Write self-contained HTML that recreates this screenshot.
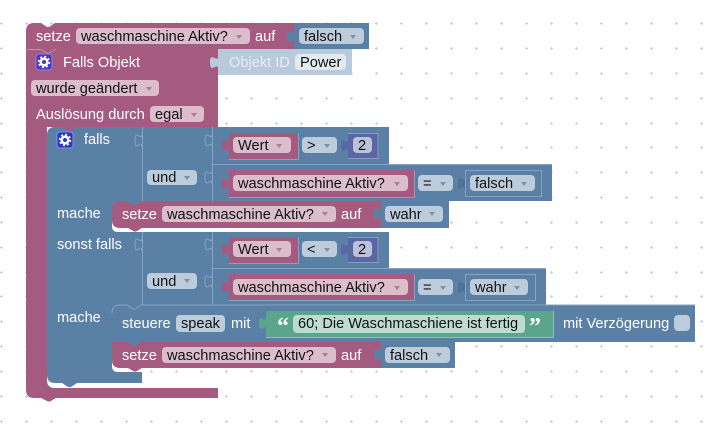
<!DOCTYPE html>
<html><head><meta charset="utf-8"><style>
html,body{margin:0;padding:0;background:#fff}
svg{display:block}
text{font-family:"Liberation Sans",Arial,sans-serif;font-size:14.6px}
.w{fill:#fff}.k{fill:#111}
.fp{fill:#dbbdcc}.fb{fill:#bdccdb}
.l{fill:none;stroke:#86a3bf;stroke-width:1}
.lp{fill:none;stroke:#c48fab;stroke-width:1}
.a{fill:#7d8fa3}.ap{fill:#a87d95}
.d1{stroke:#cfcfcf;stroke-width:1;stroke-dasharray:1 24;fill:none}
.d3{stroke:#cfcfcf;stroke-width:1;stroke-dasharray:3 22;fill:none}
</style></head><body>
<svg width="714" height="429" viewBox="0 0 714 429" xmlns="http://www.w3.org/2000/svg">
<defs>
<g id="r"><path class="d1" d="M1 -.5H714M1 1.500H714"/><path class="d3" d="M0 .5H714"/></g>
<g id="gear"><circle r="4.600" fill="#fff"/><circle r="5.400" fill="none" stroke="#fff" stroke-width="1.600" stroke-dasharray="2 2.240"/></g>
</defs>
<rect width="714" height="429" fill="#fff"/>
<use href="#r" y="23"/><use href="#r" y="48"/><use href="#r" y="73"/><use href="#r" y="98"/><use href="#r" y="123"/><use href="#r" y="147"/><use href="#r" y="172"/><use href="#r" y="197"/><use href="#r" y="222"/><use href="#r" y="247"/><use href="#r" y="272"/><use href="#r" y="296"/><use href="#r" y="321"/><use href="#r" y="346"/><use href="#r" y="371"/><use href="#r" y="396"/><use href="#r" y="421"/>

<!-- main pink -->
<path fill="#a55b80" d="M26 31q0-8 8-8h7l6 4h2l6-4H294V49H218V127H47V380q0 8 8 8H218V398H56l-6 3.500h-2l-7-3.500H34q-8 0-8-8z"/>
<path class="lp" d="M27 49.500H41l6 3.500h2l6-3.500h1"/>
<!-- top value -->
<path fill="#5b80a5" d="M294 23H369V49H294V43c0,-8 -7,6 -7,-6.500s7,2 7,-6.500z"/>
<!-- Objekt ID shadow -->
<path fill="#b9cbdb" d="M218 49H352V75H218V69c0,-8 -8,6 -8,-6.500s8,2 8,-6.500z"/>

<!-- blue falls -->
<path fill="#5b80a5" d="M47 135q0-8 8-8H389V164H552V201H449V228H142V232H389V268H546V305H695V342H455V368H142V383H77l-6 4h-3l-6-4H55q-8 0-8-8z"/>
<path fill="#a55b80" d="M62 127l6 4h3l6-4z"/>
<!-- white inner corners -->
<path fill="#fff" d="M112 218V226q0 6 6 6H142V218zM112 358V366q0 6 6 6H142V358z"/>

<!-- separators -->
<path class="l" d="M142.500 127V201M212.500 127V201M212 164.500H552M142.500 232V305M212.500 232V305M212 268.500H546"/>
<path class="l" d="M142 134c0,8 -7,-6 -7,6.500s7,-2 7,6.500M212 134c0,8 -7,-6 -7,6.500s7,-2 7,6.500M212 171c0,8 -7,-6 -7,6.500s7,-2 7,6.500M142 238c0,8 -7,-6 -7,6.500s7,-2 7,6.500M212 238c0,8 -7,-6 -7,6.500s7,-2 7,6.500M212 275c0,8 -7,-6 -7,6.500s7,-2 7,6.500"/>

<!-- row 1 text -->
<text x="36" y="41" class="w">setze</text>
<rect x="76" y="28" width="174" height="16" rx="4" class="fp"/>
<text x="81" y="41" class="k">waschmaschine Aktiv?</text>
<path class="ap" d="M236 35h6l-3 4z"/>
<text x="255" y="41" class="w">auf</text>
<rect x="299" y="28" width="65" height="16" rx="4" class="fb"/>
<text x="304" y="41" class="k">falsch</text>
<path class="a" d="M350 35h6l-3 4z"/>

<!-- Falls Objekt -->
<rect x="36" y="54" width="16" height="16" rx="3" fill="#4a36c8" stroke="#8f83d8"/>
<use href="#gear" x="44" y="62"/><circle cx="44" cy="62" r="2" fill="#4a36c8"/>
<text x="63" y="67" class="w">Falls Objekt</text>
<text x="229" y="67" fill="#e6edf3">Objekt ID</text>
<rect x="295" y="54" width="51" height="16" rx="4" fill="#e3ebf2"/>
<text x="300" y="67" class="k">Power</text>
<rect x="31" y="80" width="128" height="16" rx="4" class="fp"/>
<text x="36" y="93" class="k">wurde geändert</text>
<path class="ap" d="M146 87h6l-3 4z"/>
<text x="36" y="119" class="w">Auslösung durch</text>
<rect x="150" y="106" width="54" height="16" rx="4" class="fp"/>
<text x="155" y="119" class="k">egal</text>
<path class="ap" d="M191 113h6l-3 4z"/>

<!-- falls -->
<rect x="57" y="132" width="16" height="16" rx="3" fill="#2a36c8" stroke="#7f8fe6"/>
<use href="#gear" x="65" y="140"/><circle cx="65" cy="140" r="2" fill="#2a36c8"/>
<text x="84" y="144" class="w">falls</text>
<rect x="147" y="170" width="50" height="15" rx="4" class="fb"/>
<text x="152" y="182" class="k">und</text>
<path class="a" d="M184 176h6l-3 4z"/>

<!-- Wert > 2 -->
<path fill="#a55b80" d="M229 133H298V159H229V152c0,-8 -7,6 -7,-6.500s7,2 7,-6.500z"/>
<path class="l" d="M229 159.500H298.500V133"/>
<rect x="233" y="137" width="58" height="16" rx="4" class="fp"/>
<text x="238" y="150" class="k">Wert</text>
<path class="ap" d="M276 144h6l-3 4z"/>
<rect x="302" y="137" width="35" height="16" rx="4" class="fb"/>
<text x="307" y="150" class="k">&gt;</text>
<path class="a" d="M324 144h6l-3 4z"/>
<path fill="#5b67a5" d="M348 133H378V159H348V152c0,-8 -7,6 -7,-6.500s7,2 7,-6.500z"/>
<rect x="353" y="137" width="19" height="16" rx="4" fill="#bdc2db"/>
<text x="358" y="150" class="k">2</text>
<path fill="none" stroke="#8f9ac6" d="M348 133.500H378V158.500H348"/>

<!-- und falsch -->
<path fill="#a55b80" d="M229 170H414V197H229V190c0,-8 -7,6 -7,-6.500s7,2 7,-6.500z"/>
<path class="l" d="M229 197.500H414.500V170"/>
<rect x="233" y="175" width="175" height="16" rx="4" class="fp"/>
<text x="238" y="188" class="k">waschmaschine Aktiv?</text>
<path class="ap" d="M394 182h6l-3 4z"/>
<rect x="418" y="175" width="35" height="16" rx="4" class="fb"/>
<text x="423" y="188" class="k">=</text>
<path class="a" d="M440 182h6l-3 4z"/>
<path fill="#4f7396" d="M465 177c0,8 -7,-6 -7,6.500s7,-2 7,6.500z"/>
<rect x="465.500" y="170.500" width="76" height="26" fill="none" stroke="#86a3bf"/>
<rect x="470" y="175" width="65" height="16" rx="4" class="fb"/>
<text x="475" y="188" class="k">falsch</text>
<path class="a" d="M521 182h6l-3 4z"/>

<!-- mache setze wahr -->
<text x="57" y="218" class="w">mache</text>
<path fill="#a55b80" d="M112 209q0-8 8-8h7l6 4h2l6-4H381V228H142l-6 3.500h-2l-6-3.500H120q-8 0-8-8z"/>
<path fill="#5b80a5" d="M381 201H449V228H381V220c0,-8 -7,6 -7,-6.500s7,2 7,-6.500z"/>
<text x="122" y="219" class="w">setze</text>
<rect x="162" y="206" width="174" height="16" rx="4" class="fp"/>
<text x="167" y="219" class="k">waschmaschine Aktiv?</text>
<path class="ap" d="M322 212h6l-3 4z"/>
<text x="341" y="219" class="w">auf</text>
<rect x="385" y="206" width="58" height="16" rx="4" class="fb"/>
<text x="390" y="219" class="k">wahr</text>
<path class="a" d="M429 212h6l-3 4z"/>

<!-- sonst falls -->
<text x="57" y="249" class="w">sonst falls</text>
<rect x="147" y="273" width="50" height="16" rx="4" class="fb"/>
<text x="152" y="286" class="k">und</text>
<path class="a" d="M184 279h6l-3 4z"/>

<!-- Wert < 2 -->
<path fill="#a55b80" d="M229 237H298V263H229V256c0,-8 -7,6 -7,-6.500s7,2 7,-6.500z"/>
<path class="l" d="M229 263.500H298.500V237"/>
<rect x="233" y="241" width="58" height="16" rx="4" class="fp"/>
<text x="238" y="254" class="k">Wert</text>
<path class="ap" d="M276 248h6l-3 4z"/>
<rect x="302" y="241" width="35" height="16" rx="4" class="fb"/>
<text x="307" y="254" class="k">&lt;</text>
<path class="a" d="M324 248h6l-3 4z"/>
<path fill="#5b67a5" d="M348 237H378V263H348V256c0,-8 -7,6 -7,-6.500s7,2 7,-6.500z"/>
<rect x="353" y="241" width="19" height="16" rx="4" fill="#bdc2db"/>
<text x="358" y="254" class="k">2</text>
<path fill="none" stroke="#8f9ac6" d="M348 237.500H378V262.500H348"/>

<!-- und wahr -->
<path fill="#a55b80" d="M229 274H414V300H229V293c0,-8 -7,6 -7,-6.500s7,2 7,-6.500z"/>
<path class="l" d="M229 300.500H414.500V274"/>
<rect x="233" y="279" width="175" height="16" rx="4" class="fp"/>
<text x="238" y="292" class="k">waschmaschine Aktiv?</text>
<path class="ap" d="M394 286h6l-3 4z"/>
<rect x="418" y="279" width="35" height="16" rx="4" class="fb"/>
<text x="423" y="292" class="k">=</text>
<path class="a" d="M440 286h6l-3 4z"/>
<path fill="#4f7396" d="M465 281c0,8 -7,-6 -7,6.500s7,-2 7,6.500z"/>
<rect x="465.500" y="274.500" width="70" height="26" fill="none" stroke="#86a3bf"/>
<rect x="470" y="279" width="58" height="16" rx="4" class="fb"/>
<text x="475" y="292" class="k">wahr</text>
<path class="a" d="M514 286h6l-3 4z"/>

<!-- steuere -->
<text x="57" y="322" class="w">mache</text>
<path class="l" d="M112 313q0-8 8-8h7l6 4h2l6-4H695"/>
<text x="122" y="328" class="w">steuere</text>
<rect x="176" y="315" width="49" height="17" rx="4" class="fb"/>
<text x="181" y="328" class="k">speak</text>
<text x="231" y="328" class="w">mit</text>
<path fill="#5ba58c" d="M266 311H554V337H266V330c0,-8 -7,6 -7,-6.500s7,2 7,-6.500z"/>
<path fill="none" stroke="#8cc4b1" d="M266 337.500H553.500V311"/>
<text x="277" y="334" fill="#fff" style="font-size:24px;font-family:'Liberation Serif',serif;font-weight:bold">“</text>
<rect x="293" y="315" width="232" height="18" rx="4" fill="#bddbd1"/>
<text x="298" y="328" class="k">60; Die Waschmaschiene ist fertig</text>
<text x="529" y="334" fill="#fff" style="font-size:24px;font-family:'Liberation Serif',serif;font-weight:bold">”</text>
<text x="563" y="328" class="w">mit Verzögerung</text>
<rect x="674" y="315" width="16" height="16" rx="4" class="fb"/>

<!-- setze falsch -->
<path fill="#a55b80" d="M112 342H381V368H142l-6 3.500h-2l-6-3.500H120q-8 0-8-8z"/>
<path fill="#5b80a5" d="M127 342l6 4h2l6-4z"/>
<path fill="#5b80a5" d="M381 342H455V368H381V361c0,-8 -7,6 -7,-6.500s7,2 7,-6.500z"/>
<text x="122" y="360" class="w">setze</text>
<rect x="162" y="347" width="174" height="16" rx="4" class="fp"/>
<text x="167" y="360" class="k">waschmaschine Aktiv?</text>
<path class="ap" d="M322 353h6l-3 4z"/>
<text x="341" y="360" class="w">auf</text>
<rect x="385" y="347" width="65" height="16" rx="4" class="fb"/>
<text x="390" y="360" class="k">falsch</text>
<path class="a" d="M436 353h6l-3 4z"/>
</svg>
</body></html>
